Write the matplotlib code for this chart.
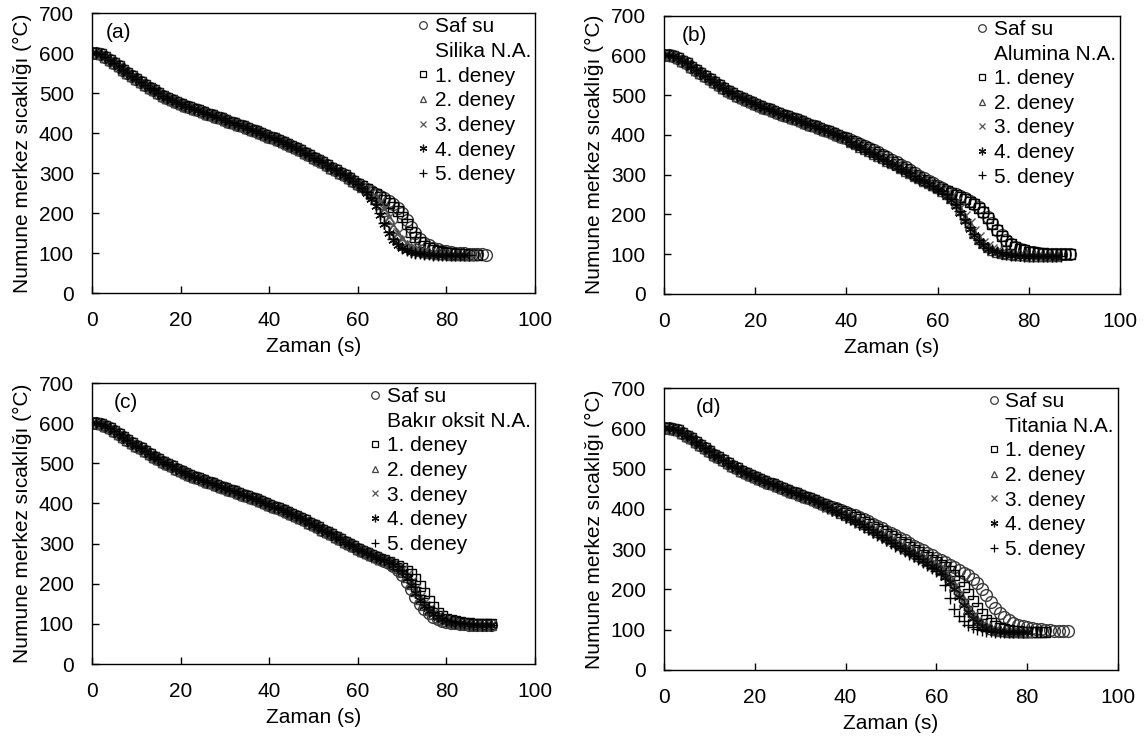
import numpy as np
import matplotlib
matplotlib.use('Agg')
import matplotlib.pyplot as plt
from matplotlib.lines import Line2D

plt.rcParams['font.family'] = ['Liberation Sans', 'DejaVu Sans']

# ---- data (1 s sampling) ----
zaman = np.arange(0, 91)

seri_adlari = ['Saf su', '1. deney', '2. deney', '3. deney', '4. deney', '5. deney']
nano_adlari = ['Silika N.A.', 'Alumina N.A.', 'Bakır oksit N.A.', 'Titania N.A.']
panel_etiket = ['(a)', '(b)', '(c)', '(d)']

# (a) Silika : common part t=0..60, then tails from t=61
a_ortak = [600, 600, 597, 591, 584, 576, 567, 559, 551, 543, 535, 527, 520, 513, 507, 500,
           494, 489, 484, 479, 474, 469, 465, 461, 457, 453, 449, 445, 441, 437, 433, 429,
           425, 421, 417, 413, 409, 405, 400, 396, 391, 387, 382, 377, 372, 367, 362, 357,
           351, 345, 339, 333, 327, 320, 314, 307, 301, 295, 288, 281, 274]
a_saf = [267, 261, 255, 249, 243, 237, 230, 222, 212, 200, 184, 166, 149, 136, 126, 119,
         113, 109, 106, 104, 102, 101, 100, 99, 98, 98, 97, 97, 96]
a_d1 = [267, 260, 254, 247, 240, 233, 225, 216, 205, 190, 172, 154, 139, 127, 118, 112,
        107, 104, 102, 100, 99, 98, 97, 97, 96, 96, 96]
a_d2 = [265, 257, 249, 238, 224, 206, 185, 164, 146, 132, 121, 113, 108, 104, 102, 100,
        99, 98, 97, 97, 96, 96, 96, 95, 95]
a_d3 = [265, 258, 250, 240, 227, 210, 190, 170, 151, 136, 124, 115, 109, 105, 102, 100,
        99, 98, 97, 97, 96, 96, 96, 95, 95, 95]
a_d4 = [262, 250, 236, 218, 196, 172, 150, 133, 120, 112, 107, 103, 101, 99, 98, 97,
        96, 96, 95, 95, 95, 95, 95, 95]
a_d5 = [263, 252, 239, 222, 200, 176, 153, 135, 122, 113, 107, 103, 101, 99, 98, 97,
        96, 96, 95, 95, 95, 95, 95, 95, 95]

# (b) Alumina : common part t=0..40, then tails from t=41
b_ortak = [600, 600, 598, 593, 587, 580, 572, 564, 556, 548, 540, 532, 525, 518, 511, 505,
           499, 493, 488, 483, 478, 473, 468, 464, 459, 455, 451, 447, 443, 439, 434, 430,
           426, 422, 418, 413, 409, 405, 400, 396, 391]
b_saf = [386, 382, 377, 372, 367, 362, 356, 350, 344, 337, 331, 324, 318, 311, 304, 297,
         291, 284, 278, 272, 266, 260, 255, 250, 245, 240, 234, 227, 218, 207, 193, 177,
         161, 147, 135, 126, 119, 113, 109, 106, 104, 102, 101, 100, 100, 99, 99, 99, 99]
b_d1 = [384, 379, 374, 369, 364, 358, 352, 346, 340, 333, 327, 320, 313, 307, 300, 293,
        287, 281, 275, 269, 263, 258, 253, 248, 243, 238, 232, 225, 216, 205, 191, 175,
        160, 146, 134, 125, 118, 113, 109, 106, 104, 103, 102, 101, 100, 100, 100, 99, 99]
b_d2 = [381, 376, 370, 365, 359, 353, 347, 341, 335, 329, 323, 316, 310, 304, 297, 291,
        285, 279, 273, 266, 259, 251, 241, 228, 211, 192, 172, 154, 139, 127, 118, 111,
        106, 103, 101, 99, 98, 97, 97, 96, 96, 96, 95, 95, 95, 95]
b_d3 = [382, 377, 371, 366, 360, 354, 348, 342, 336, 330, 324, 318, 312, 305, 299, 293,
        287, 281, 274, 268, 261, 253, 244, 232, 216, 197, 177, 158, 142, 129, 120, 112,
        107, 104, 101, 99, 98, 97, 97, 96, 96, 96, 95, 95, 95]
b_d4 = [380, 374, 369, 363, 357, 351, 345, 339, 333, 327, 320, 314, 308, 301, 295, 289,
        283, 276, 270, 263, 256, 247, 236, 222, 204, 184, 164, 147, 133, 122, 114, 108,
        104, 101, 99, 98, 97, 96, 96, 95, 95, 95, 95, 95, 95, 95]
b_d5 = [381, 375, 370, 364, 358, 352, 346, 340, 334, 328, 322, 315, 309, 303, 296, 290,
        284, 278, 271, 265, 258, 250, 239, 226, 209, 189, 169, 151, 136, 125, 116, 110,
        105, 102, 100, 98, 97, 97, 96, 96, 95, 95, 95, 95, 95, 95, 95]

# (c) Bakir oksit : common part t=0..65, then tails from t=66
c_ortak = [600, 600, 598, 594, 588, 581, 574, 566, 559, 551, 544, 537, 530, 523, 516, 510,
           504, 498, 493, 487, 482, 477, 472, 467, 463, 458, 454, 450, 446, 442, 438, 434,
           430, 426, 422, 418, 414, 410, 406, 401, 397, 392, 388, 383, 378, 373, 368, 363,
           358, 352, 346, 341, 335, 329, 323, 317, 311, 305, 299, 293, 287, 282, 277, 272,
           267, 262]
c_saf = [257, 251, 244, 235, 222, 205, 186, 166, 149, 136, 126, 118, 112, 108, 105, 103,
         101, 100, 99, 98, 97, 97, 96, 96, 96]
c_d1 = [259, 255, 250, 245, 239, 232, 223, 211, 195, 176, 157, 141, 128, 119, 113, 109,
        106, 104, 102, 101, 100, 100, 99, 99, 99]
c_d2 = [258, 253, 247, 240, 230, 217, 200, 181, 163, 147, 135, 125, 118, 112, 108, 105,
        103, 101, 100, 99, 98, 98, 97, 97, 97]
c_d3 = [258, 254, 248, 242, 233, 221, 205, 186, 168, 151, 138, 127, 119, 113, 109, 106,
        103, 102, 100, 99, 98, 98, 97, 97, 97]
c_d4 = [258, 253, 247, 239, 228, 214, 196, 177, 160, 145, 133, 124, 117, 112, 108, 105,
        103, 101, 100, 99, 98, 98, 97, 97, 97]
c_d5 = [259, 254, 249, 243, 235, 224, 209, 191, 172, 155, 141, 130, 121, 115, 110, 106,
        104, 102, 101, 100, 99, 98, 98, 97, 97]

# (d) Titania : common part t=0..35, then tails from t=36
d_ortak = [600, 600, 599, 595, 589, 582, 575, 567, 559, 551, 543, 535, 528, 521, 514, 507,
           501, 495, 490, 485, 480, 475, 470, 465, 461, 456, 452, 448, 443, 439, 435, 430,
           426, 422, 417, 413]
d_saf = [409, 405, 401, 397, 393, 388, 384, 379, 374, 369, 363, 358, 352, 346, 340, 334,
         328, 322, 315, 309, 303, 297, 291, 285, 279, 273, 267, 261, 255, 249, 242, 235,
         226, 215, 201, 185, 168, 153, 141, 131, 123, 117, 112, 109, 106, 104, 102, 101,
         100, 99, 98, 98, 97, 97]
d_d1 = [408, 403, 399, 394, 389, 384, 379, 374, 368, 362, 356, 350, 344, 338, 332, 325,
        319, 312, 306, 299, 293, 286, 280, 274, 267, 261, 255, 247, 236, 222, 206, 189,
        172, 154, 138, 125, 116, 109, 104, 101, 99, 97, 96, 95, 95, 94, 94, 94, 94]
d_d2 = [406, 401, 396, 391, 385, 380, 374, 368, 362, 356, 349, 343, 337, 330, 324, 317,
        310, 304, 297, 291, 284, 278, 271, 264, 257, 249, 239, 226, 210, 191, 171, 152,
        136, 124, 115, 108, 103, 100, 98, 96, 95, 95, 94, 94, 94]
d_d3 = [405, 400, 395, 390, 384, 378, 372, 366, 360, 354, 347, 341, 334, 328, 321, 315,
        308, 301, 295, 288, 281, 275, 268, 261, 254, 246, 236, 222, 205, 186, 166, 148,
        133, 121, 112, 106, 102, 99, 97, 96, 95, 94, 94, 94]
d_d4 = [405, 400, 394, 389, 383, 377, 371, 365, 359, 352, 346, 339, 333, 326, 320, 313,
        306, 300, 293, 287, 280, 273, 266, 259, 252, 243, 232, 218, 200, 181, 161, 143,
        129, 118, 110, 104, 100, 98, 96, 95, 94, 94, 94, 94, 94]
d_d5 = [404, 398, 393, 387, 381, 375, 369, 362, 356, 349, 343, 336, 329, 323, 316, 309,
        302, 296, 289, 282, 275, 268, 261, 254, 246, 238, 212, 178, 152, 135, 121, 112,
        106, 102, 99, 97, 96, 95, 94, 94, 94, 94, 94, 94]

paneller = [
    (a_ortak, [a_saf, a_d1, a_d2, a_d3, a_d4, a_d5]),
    (b_ortak, [b_saf, b_d1, b_d2, b_d3, b_d4, b_d5]),
    (c_ortak, [c_saf, c_d1, c_d2, c_d3, c_d4, c_d5]),
    (d_ortak, [d_saf, d_d1, d_d2, d_d3, d_d4, d_d5]),
]

# marker styles: circle, square, triangle, x, asterisk, plus
isaretler = ['o', 's', '^', 'x', (6, 2, 0), '+']
renkler = ['#3a3a3a', 'black', '#444444', '#555555', '#111111', 'black']
boyutlar = [8.5, 7.5, 6.5, 7, 7.5, 8]
leg_boyut = [5.5, 5, 4.5, 5, 5.5, 6]

# axes positions in figure fraction [left, bottom, width, height]
konumlar = [
    [0.0803, 0.604, 0.3866, 0.378],
    [0.5794, 0.603, 0.3980, 0.3757],
    [0.0803, 0.1027, 0.3866, 0.3797],
    [0.5794, 0.0946, 0.3960, 0.381],
]
etiket_x = [0.03, 0.04, 0.05, 0.07]

fig = plt.figure(figsize=(11.46, 7.4), dpi=100)

for i, (ortak, kuyruklar) in enumerate(paneller):
    ax = fig.add_axes(konumlar[i])
    for j, kuyruk in enumerate(kuyruklar):
        y = ortak + kuyruk
        ax.plot(zaman[:len(y)], y, linestyle='none', marker=isaretler[j],
                mfc='none', mec=renkler[j], ms=boyutlar[j], mew=1.0)

    ax.set_xlim(0, 100)
    ax.set_ylim(0, 700)
    ax.set_xticks(range(0, 101, 20))
    ax.set_yticks(range(0, 701, 100))
    ax.tick_params(direction='in', length=5, width=1, labelsize=15, pad=13)
    for s in ax.spines.values():
        s.set_linewidth(1)
    ax.set_xlabel('Zaman (s)', fontsize=15, labelpad=5)
    ax.set_ylabel('Numune merkez sıcaklığı (°C)', fontsize=15, labelpad=5)
    ax.text(etiket_x[i], 0.93, panel_etiket[i], transform=ax.transAxes, fontsize=15,
            va='center', ha='left')

    # legend: saf su, material name (no marker), then the experiments
    tutamaclar = []
    etiketler = []
    for j in range(6):
        tutamaclar.append(Line2D([], [], linestyle='none', marker=isaretler[j],
                                 mfc='none', mec=renkler[j], ms=leg_boyut[j], mew=0.9))
        etiketler.append(seri_adlari[j])
        if j == 0:
            tutamaclar.append(Line2D([], [], linestyle='none', marker='none'))
            etiketler.append(nano_adlari[i])
    ax.legend(tutamaclar, etiketler, loc='upper right', frameon=False, fontsize=15,
              handlelength=0.5, handletextpad=0.3, labelspacing=0.27,
              borderpad=0.0, borderaxespad=0.2)

fig.savefig('out.png', dpi=100)
